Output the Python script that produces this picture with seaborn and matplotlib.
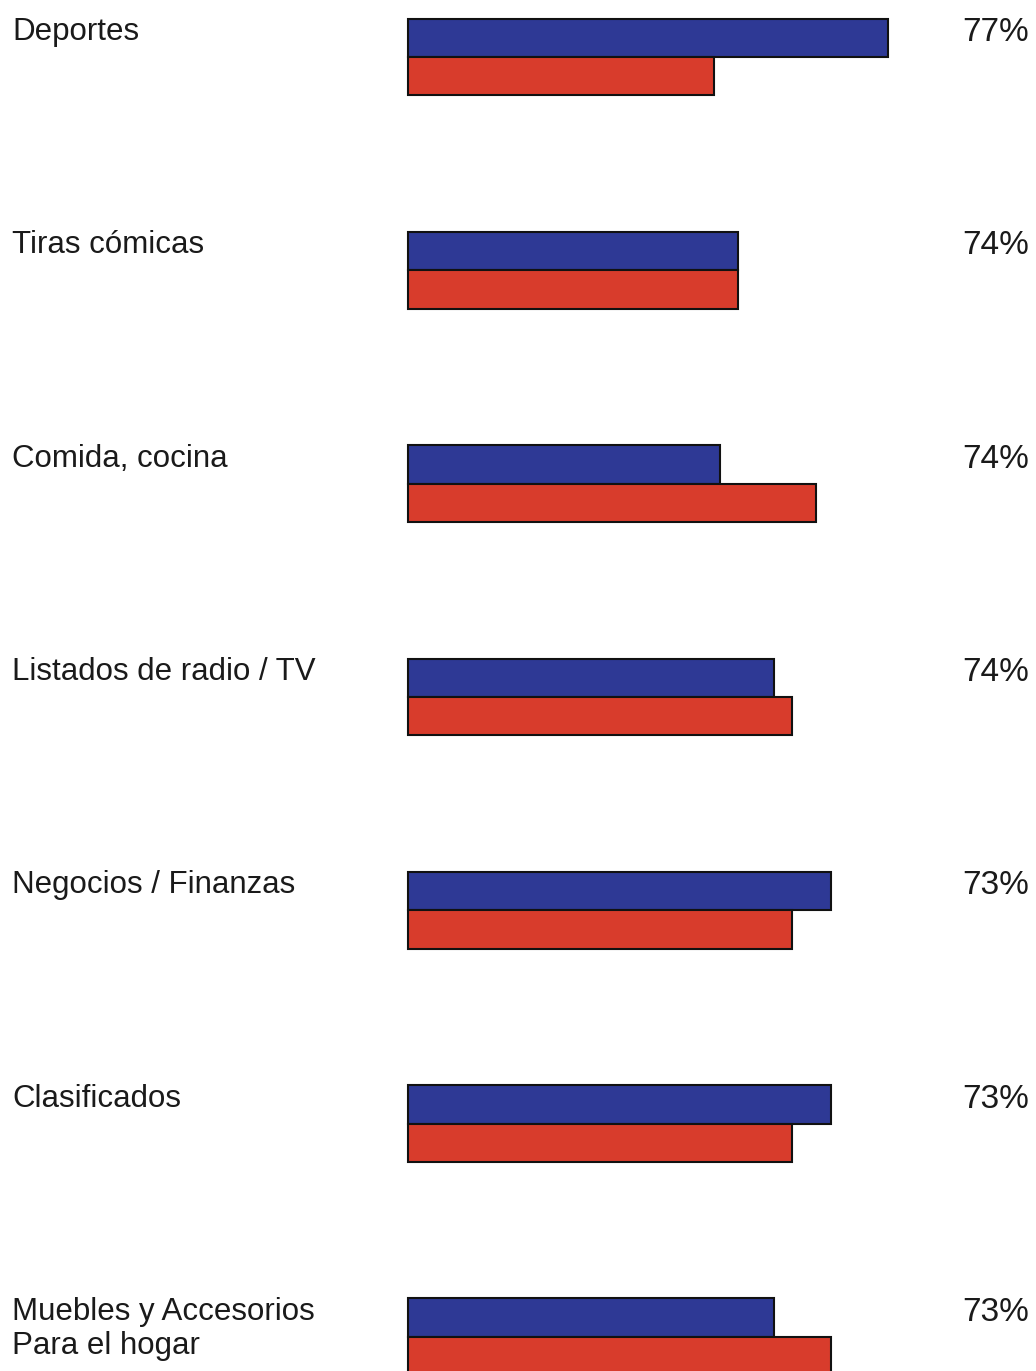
import pandas as pd
import matplotlib
matplotlib.use("Agg")
import matplotlib.pyplot as plt
import seaborn as sns

categorias = ["Deportes", "Tiras cómicas", "Comida, cocina", "Listados de radio / TV",
              "Negocios / Finanzas", "Clasificados", "Muebles y Accesorios\nPara el hogar"]
serie_azul = [80, 55, 52, 61, 70.5, 70.5, 61]
serie_roja = [51, 55, 68, 64, 64, 64, 70.5]
totales = ["77%", "74%", "74%", "74%", "73%", "73%", "73%"]

df = pd.DataFrame({
    "categoria": categorias * 2,
    "valor": serie_azul + serie_roja,
    "serie": ["azul"] * len(categorias) + ["roja"] * len(categorias),
})

sns.set_style("white")
plt.rcParams["font.family"] = ["Liberation Sans", "DejaVu Sans"]

fig = plt.figure(figsize=(10.36, 13.71), dpi=100)
ax = fig.add_axes([0, 0, 1, 1])

sns.barplot(data=df, x="valor", y="categoria", hue="serie", orient="h",
            palette={"azul": "#2e3995", "roja": "#d83c2c"}, width=0.36,
            saturation=1, edgecolor="#111111", linewidth=1.5, legend=False, ax=ax)

# mapping: 6 px per unit, baseline at px 408; group spacing ~213 px
ax.set_xlim(-408 / 6, (1036 - 408) / 6)
ax.set_ylim((1371 - 57) / 213.3, -57 / 213.3)
ax.axis("off")

for i, (cat, tot) in enumerate(zip(categorias, totales)):
    ytop = i - 40 / 213.3
    ax.text(-66, ytop, cat, ha="left", va="top", fontsize=22.5,
            color="#1a1a1a", linespacing=1.2)
    ax.text(92.3, ytop, tot, ha="left", va="top", fontsize=24, color="#1a1a1a")

fig.savefig("out.png", dpi=100, facecolor="white")
